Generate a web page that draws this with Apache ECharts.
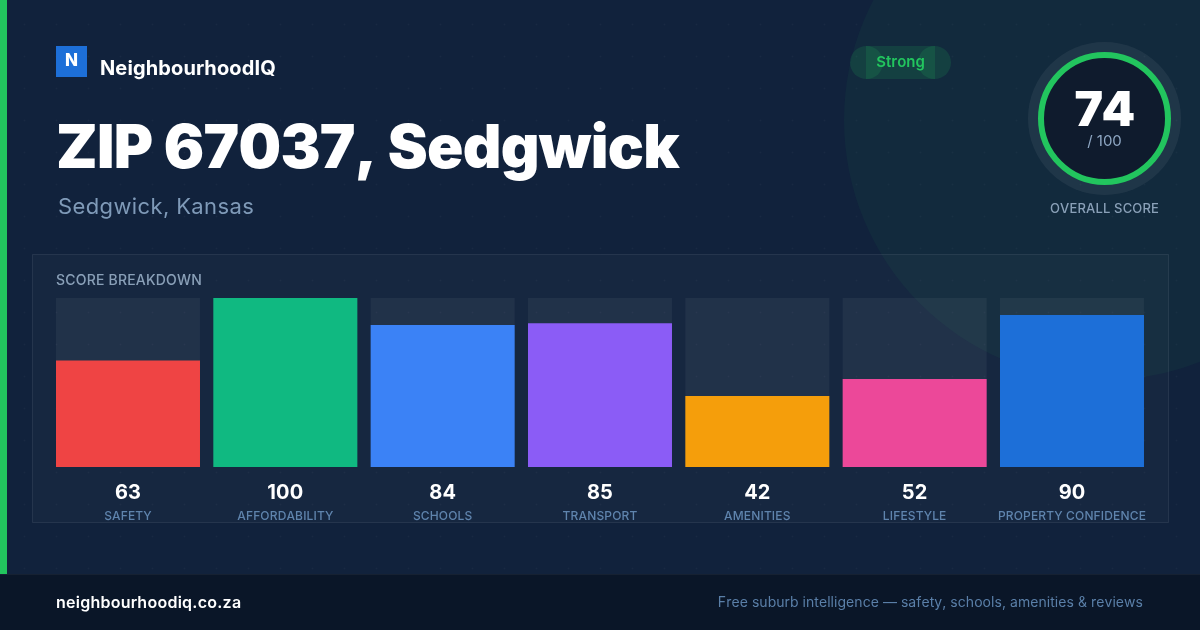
<!DOCTYPE html>
<html><head><meta charset="utf-8">
<style>html,body{margin:0;padding:0;background:#11223c}#c{width:1200px;height:630px}</style>
<script src="https://cdn.jsdelivr.net/npm/echarts@6/dist/echarts.min.js"></script>
</head><body><div id="c"></div>
<script>
const categories = ['SAFETY','AFFORDABILITY','SCHOOLS','TRANSPORT','AMENITIES','LIFESTYLE','PROPERTY CONFIDENCE'];
const scores = [63,100,84,85,42,52,90];
const barColors = ['#ef4444','#10b981','#3b82f6','#8b5cf6','#f59e0b','#ec4899','#1d6fd8'];
const overallScore = 74;
const F = 'Inter, sans-serif';

// the reference text is set without kerning pairs and with slight tracking
const tracking = {60:'-0.7px',48:'-1.5px',22:'0.38px',20:'0.13px',16:'0.25px',14:'0.2px',13:'0.17px',12:'0.15px'};
const origFill = CanvasRenderingContext2D.prototype.fillText;
CanvasRenderingContext2D.prototype.fillText = function(t,x,y,m){
  const mt = /(\d+)px/.exec(this.font);
  let ls = (mt && tracking[mt[1]]) || '0px';
  if (t && t.indexOf('Free suburb') === 0) ls = '0.05px';
  this.fontKerning = 'none';
  this.letterSpacing = ls;
  origFill.call(this,t,x,y,m);
  this.letterSpacing = '0px';
};

const bg = [];
bg.push({type:'rect',shape:{x:0,y:0,width:1200,height:630},style:{fill:'#11223c'},z:-10});
for(let x=24;x<1200;x+=32)for(let y=24;y<630;y+=32){
  bg.push({type:'circle',shape:{cx:x+.5,cy:y+.5,r:1},style:{fill:'rgba(255,255,255,0.035)'},z:-9,silent:true});
}
bg.push({type:'circle',shape:{cx:1104,cy:120,r:260},style:{fill:'rgba(34,197,94,0.05)'},z:-8});
bg.push({type:'rect',shape:{x:32.5,y:254.5,width:1136,height:268},style:{fill:'rgba(255,255,255,0.025)',stroke:'rgba(255,255,255,0.08)',lineWidth:1},z:-7});
bg.push({type:'rect',shape:{x:0,y:0,width:7,height:574},style:{fill:'#22c55e'},z:-6});
bg.push({type:'rect',shape:{x:0,y:574,width:1200,height:56},style:{fill:'#0a1628'},z:-6});
bg.push({type:'rect',shape:{x:0,y:574,width:1200,height:1},style:{fill:'rgba(255,255,255,0.05)'},z:-5});
bg.push({type:'rect',shape:{x:56,y:46,width:31,height:31},style:{fill:'#1d6fd8'},z:-5});
// status pill
bg.push({type:'circle',shape:{cx:866.5,cy:62.5,r:16.5},style:{fill:'rgba(34,197,94,0.15)'},z:-5});
bg.push({type:'circle',shape:{cx:934.5,cy:62.5,r:16.5},style:{fill:'rgba(34,197,94,0.15)'},z:-5});
bg.push({type:'rect',shape:{x:866,y:46,width:69,height:33},style:{fill:'rgba(34,197,94,0.15)'},z:-5});
// score ring
bg.push({type:'circle',shape:{cx:1104.5,cy:118.5,r:76.5},style:{fill:'rgba(255,255,255,0.06)'},z:-5});
bg.push({type:'circle',shape:{cx:1104.5,cy:118.5,r:63.5},style:{fill:'#0f1b2d',stroke:'#22c55e',lineWidth:6},z:-4});

function txt(text,x,y,size,weight,fill,align){
  return {type:'text',x,y,z:50,style:{text,fontFamily:F,fontSize:size,fontWeight:weight,fill,textAlign:align||'left',textVerticalAlign:'middle'}};
}
const texts = [
  txt('N',71.5,61,17,800,'#ffffff','center'),
  txt('NeighbourhoodIQ',100,69,20,700,'#ffffff'),
  txt('ZIP 67037, Sedgwick',56,150,60,900,'#ffffff'),
  txt('Sedgwick, Kansas',58,207,22,400,'#7f9ab8'),
  txt('Strong',900.5,62,15,600,'#22c55e','center'),
  txt(String(overallScore),1104,112,48,900,'#ffffff','center'),
  txt('/ 100',1104.5,141.5,15,400,'#8fa8c4','center'),
  txt('OVERALL SCORE',1104.5,209,13,500,'#8aa0b8','center'),
  txt('SCORE BREAKDOWN',56,281,14,500,'#8aa0b8'),
  txt('neighbourhoodiq.co.za',56,603,16,600,'#ffffff'),
  txt('Free suburb intelligence — safety, schools, amenities & reviews',1143,603,14,400,'#5a7fa8','right')
];

const chart = echarts.init(document.getElementById('c'),null,{renderer:'canvas',width:1200,height:630});
chart.setOption({
  animation:false,
  graphic:{elements:bg.concat(texts)},
  grid:{left:49.33,width:1101.33,top:298,height:169,containLabel:false},
  xAxis:{type:'category',data:categories,axisLine:{show:false},axisTick:{show:false},
    axisLabel:{interval:0,margin:13,hideOverlap:false,
      formatter:(n,i)=>`{v|${scores[i]}}\n{n|${n}}`,
      rich:{
        v:{fontFamily:F,fontSize:20,fontWeight:700,color:'#ffffff',lineHeight:26,align:'center'},
        n:{fontFamily:F,fontSize:12,fontWeight:500,color:'#5f84ad',lineHeight:21,align:'center'}
      }}},
  yAxis:{type:'value',min:0,max:100,show:false,splitLine:{show:false}},
  series:[
    {type:'bar',data:categories.map(()=>100),barWidth:144,barGap:'-100%',silent:true,z:2,
      itemStyle:{color:'rgba(255,255,255,0.05)'}},
    {type:'bar',data:scores.map((v,i)=>({value:v,itemStyle:{color:barColors[i]}})),barWidth:144,barGap:'-100%',z:3}
  ]
});
</script></body></html>
